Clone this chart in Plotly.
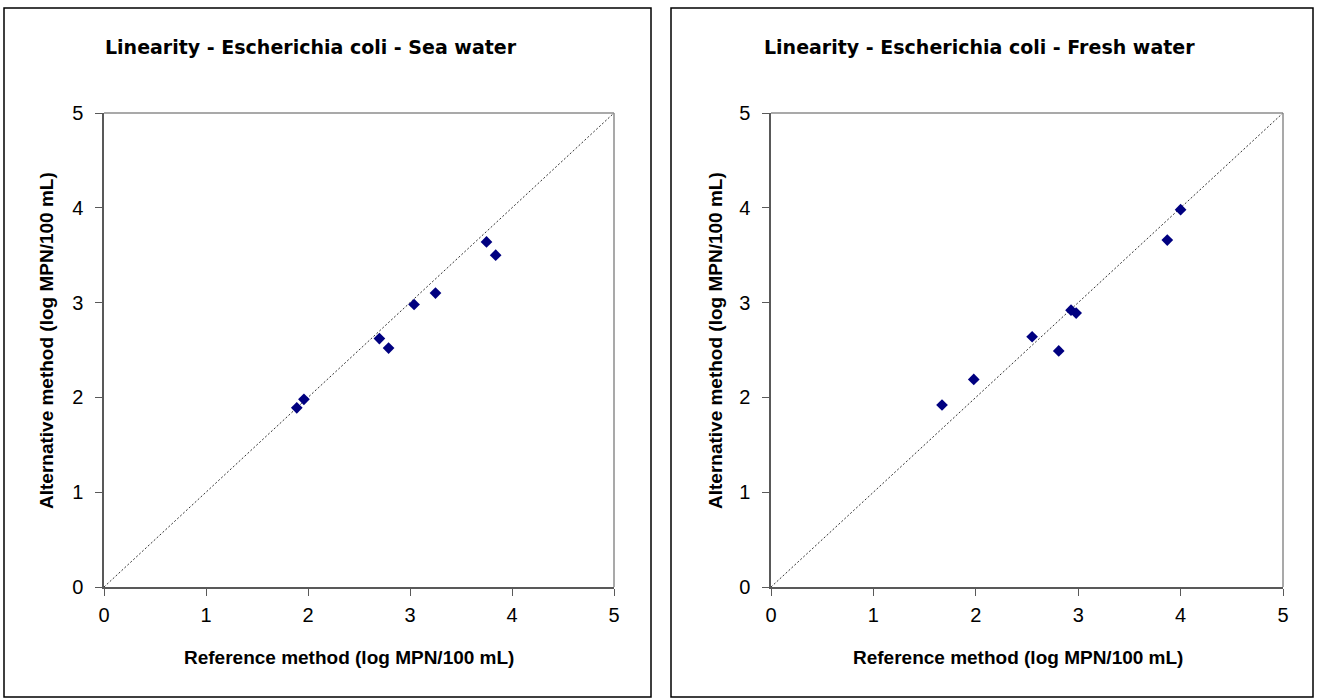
import plotly.graph_objects as go

# ---- data ----
sea_ref = [1.89, 1.96, 2.70, 2.79, 3.04, 3.25, 3.75, 3.84]
sea_alt = [1.89, 1.98, 2.62, 2.52, 2.98, 3.10, 3.64, 3.50]
fresh_ref = [1.67, 1.98, 2.55, 2.81, 2.93, 2.98, 3.87, 4.00]
fresh_alt = [1.92, 2.19, 2.64, 2.49, 2.92, 2.89, 3.66, 3.98]
diag = [0, 5]
ticks = [0, 1, 2, 3, 4, 5]
titles = ["Linearity - Escherichia coli - Sea water",
          "Linearity - Escherichia coli - Fresh water"]
xlabel = "Reference method (log MPN/100 mL)"
ylabel = "Alternative method (log MPN/100 mL)"

W, H = 1317, 700
def px(x):
    return x / W
def py(y):
    return 1 - y / H

fig = go.Figure()

panels = [
    dict(xa="x", ya="y", xd=[px(104), px(614)], ref=sea_ref, alt=sea_alt,
         box=(4, 8, 651, 697), tx=311, xl=349, yl=47),
    dict(xa="x2", ya="y2", xd=[px(771), px(1283)], ref=fresh_ref, alt=fresh_alt,
         box=(671, 8, 1313, 697), tx=979, xl=1018, yl=716),
]
ydom = [py(587), py(113)]

layout_axes = {}
shapes = []
annotations = []
for i, p in enumerate(panels):
    fig.add_trace(go.Scatter(x=diag, y=diag, mode="lines",
                             line=dict(color="#333333", width=1, dash="2px,2px"),
                             xaxis=p["xa"], yaxis=p["ya"], hoverinfo="skip",
                             showlegend=False))
    fig.add_trace(go.Scatter(x=p["ref"], y=p["alt"], mode="markers",
                             marker=dict(symbol="diamond", size=9, color="#000080",
                                         line=dict(width=0)),
                             xaxis=p["xa"], yaxis=p["ya"], showlegend=False))
    suffix = "" if i == 0 else "2"
    axcommon = dict(range=[0, 5], tickvals=ticks, showgrid=False, zeroline=False,
                    showline=True, linecolor="#595959", linewidth=1.5,
                    ticks="outside", ticklen=7, tickcolor="#595959", tickwidth=1,
                    tickfont=dict(family="Liberation Sans, Arial", size=20, color="#000"),
                    fixedrange=True, automargin=False)
    layout_axes["xaxis" + suffix] = dict(axcommon, domain=p["xd"], anchor=p["ya"],
                                         ticklabelstandoff=2)
    layout_axes["yaxis" + suffix] = dict(axcommon, domain=ydom, anchor=p["xa"],
                                         ticklabelstandoff=8)
    # top & right frame of plot area
    shapes.append(dict(type="line", xref=p["xa"] + " domain", yref=p["ya"] + " domain",
                       x0=0, x1=1, y0=1, y1=1, line=dict(color="#8c8c8c", width=1.5)))
    shapes.append(dict(type="line", xref=p["xa"] + " domain", yref=p["ya"] + " domain",
                       x0=1, x1=1, y0=0, y1=1, line=dict(color="#8c8c8c", width=1.5)))
    # outer chart border
    x0, y0, x1, y1 = p["box"]
    shapes.append(dict(type="rect", xref="paper", yref="paper",
                       x0=px(x0), x1=px(x1), y0=py(y1), y1=py(y0),
                       line=dict(color="#000", width=1.5), layer="below"))
    annotations.append(dict(text="<b>" + titles[i] + "</b>", xref="paper", yref="paper",
                            x=px(p["tx"]), y=py(47), showarrow=False,
                            xanchor="center", yanchor="middle",
                            font=dict(family="DejaVu Sans", size=19, color="#000")))
    annotations.append(dict(text="<b>" + xlabel + "</b>", xref="paper", yref="paper",
                            x=px(p["xl"]), y=py(657), showarrow=False,
                            xanchor="center", yanchor="middle",
                            font=dict(family="Liberation Sans", size=19, color="#000")))
    annotations.append(dict(text="<b>" + ylabel + "</b>", xref="paper", yref="paper",
                            x=px(p["yl"]), y=py(341), showarrow=False, textangle=-90,
                            xanchor="center", yanchor="middle",
                            font=dict(family="Liberation Sans", size=19, color="#000")))

fig.update_layout(width=W, height=H,
                  margin=dict(l=0, r=0, t=0, b=0, pad=0, autoexpand=False),
                  paper_bgcolor="white", plot_bgcolor="white",
                  shapes=shapes, annotations=annotations, **layout_axes)

fig.write_html("out.html", config={"displayModeBar": False})
